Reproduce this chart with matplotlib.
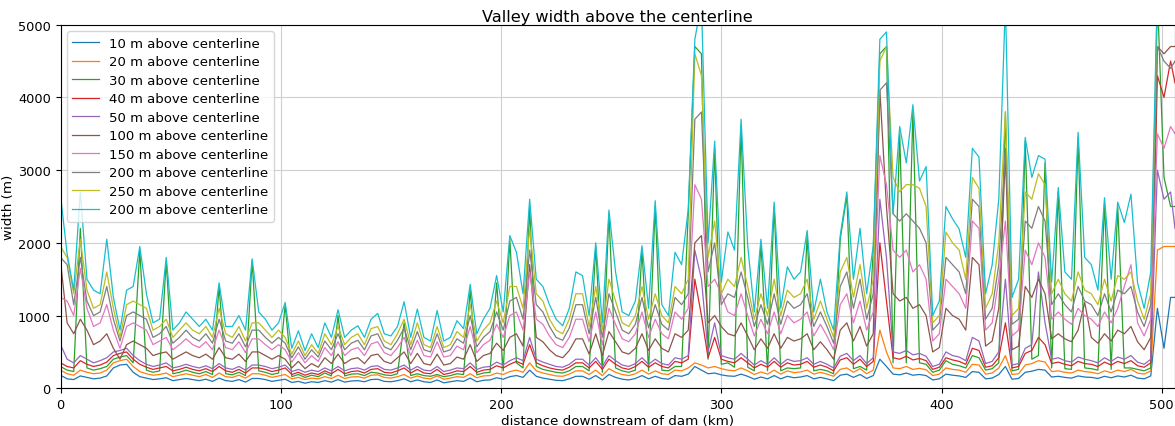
import numpy as np
import matplotlib
matplotlib.use("Agg")
import matplotlib.pyplot as plt

# Sampling stations along the river (km downstream of the dam)
distance_km = np.append(np.arange(0, 505, 3), 506)

series_labels = [
    "10 m above centerline", "20 m above centerline", "30 m above centerline",
    "40 m above centerline", "50 m above centerline", "100 m above centerline",
    "150 m above centerline", "200 m above centerline", "250 m above centerline",
    "200 m above centerline",
]

width_10m = [
    180, 130, 120, 170, 150, 130, 140, 170, 280, 320,
    330, 220, 160, 140, 120, 130, 145, 105, 120, 135,
    120, 105, 125, 95, 140, 105, 95, 120, 85, 135,
    135, 120, 95, 110, 125, 80, 95, 70, 90, 80,
    105, 85, 120, 85, 100, 105, 90, 120, 125, 95,
    90, 105, 130, 90, 115, 90, 80, 115, 75, 90,
    105, 95, 140, 90, 110, 115, 145, 125, 160, 175,
    150, 250, 165, 140, 125, 110, 105, 130, 165, 165,
    125, 175, 115, 190, 150, 125, 115, 135, 175, 130,
    165, 135, 125, 175, 165, 195, 300, 250, 200, 210,
    185, 170, 165, 195, 165, 125, 155, 130, 175, 130,
    165, 145, 155, 175, 130, 150, 130, 105, 180, 195,
    150, 190, 135, 175, 400, 300, 195, 185, 210, 180,
    190, 175, 115, 130, 195, 180, 170, 150, 230, 220,
    130, 140, 190, 300, 125, 135, 220, 235, 260, 250,
    155, 165, 150, 140, 170, 155, 150, 135, 165, 145,
    170, 155, 180, 140, 130, 170, 1100, 550, 1250, 1250,
]

width_20m = [
    250, 200, 180, 250, 220, 200, 210, 250, 350, 380,
    400, 300, 230, 200, 180, 190, 210, 160, 180, 200,
    180, 160, 190, 150, 210, 160, 150, 180, 140, 200,
    200, 180, 150, 170, 190, 130, 150, 120, 140, 130,
    160, 135, 180, 135, 155, 160, 140, 180, 185, 150,
    140, 160, 190, 140, 170, 140, 130, 170, 125, 140,
    160, 150, 200, 145, 170, 175, 210, 190, 230, 250,
    220, 350, 240, 210, 190, 170, 165, 195, 240, 240,
    190, 250, 175, 270, 220, 190, 175, 200, 250, 195,
    240, 200, 190, 250, 240, 280, 350, 320, 280, 300,
    270, 250, 240, 280, 240, 190, 225, 195, 250, 195,
    240, 215, 225, 250, 195, 220, 195, 165, 260, 280,
    220, 270, 200, 250, 800, 500, 280, 270, 300, 260,
    275, 255, 175, 195, 280, 260, 250, 220, 330, 320,
    195, 210, 280, 450, 190, 200, 320, 340, 380, 360,
    230, 240, 220, 210, 250, 230, 220, 200, 240, 215,
    250, 230, 260, 210, 195, 240, 1900, 1950, 1950, 1950,
]

width_30m = [
    300, 250, 230, 2200, 280, 250, 270, 300, 400, 430,
    450, 350, 1900, 250, 220, 240, 1750, 200, 220, 250,
    220, 200, 230, 190, 1400, 200, 185, 220, 175, 1750,
    240, 220, 190, 210, 1150, 160, 190, 150, 180, 160,
    210, 170, 1000, 170, 195, 200, 175, 220, 210, 185,
    175, 200, 900, 175, 200, 175, 165, 190, 160, 175,
    200, 190, 1350, 185, 210, 220, 1450, 240, 2050, 350,
    280, 2500, 300, 260, 240, 220, 210, 240, 300, 300,
    240, 1950, 220, 2400, 280, 240, 220, 250, 1900, 240,
    2500, 250, 240, 300, 300, 2400, 4700, 4600, 400, 3300,
    330, 350, 290, 3600, 290, 240, 2000, 240, 2500, 240,
    280, 270, 280, 2100, 240, 260, 240, 200, 2050, 2650,
    270, 300, 250, 1900, 4600, 4700, 350, 3500, 350, 3800,
    350, 330, 220, 250, 380, 330, 310, 280, 450, 420,
    250, 270, 350, 3800, 240, 260, 3400, 400, 450, 3100,
    280, 2700, 270, 260, 3450, 280, 270, 250, 2550, 260,
    2500, 280, 280, 260, 240, 280, 5400, 2900, 2500, 2500,
]

width_40m = [
    350, 300, 280, 380, 330, 300, 320, 360, 450, 480,
    500, 400, 330, 290, 260, 280, 300, 240, 260, 290,
    260, 240, 270, 230, 300, 240, 220, 260, 210, 280,
    280, 260, 230, 250, 280, 190, 220, 180, 210, 190,
    240, 200, 260, 200, 230, 240, 210, 260, 270, 220,
    210, 240, 280, 210, 260, 210, 200, 260, 190, 210,
    240, 230, 300, 220, 250, 260, 310, 280, 330, 370,
    330, 600, 350, 310, 280, 260, 250, 290, 350, 350,
    280, 370, 260, 400, 330, 280, 260, 300, 370, 290,
    350, 300, 280, 370, 350, 400, 1500, 1000, 420, 700,
    400, 370, 350, 420, 350, 280, 330, 290, 370, 290,
    350, 320, 330, 370, 290, 320, 290, 240, 390, 420,
    330, 400, 300, 370, 2000, 1200, 420, 400, 440, 390,
    410, 380, 260, 290, 420, 390, 370, 330, 550, 520,
    290, 310, 420, 900, 280, 300, 480, 520, 700, 600,
    340, 360, 330, 310, 370, 340, 330, 300, 360, 320,
    370, 340, 380, 310, 290, 350, 4300, 4000, 4500, 4200,
]

width_50m = [
    600, 400, 350, 450, 400, 350, 380, 420, 500, 520,
    550, 450, 380, 330, 300, 320, 350, 280, 300, 330,
    300, 280, 310, 270, 340, 280, 260, 300, 250, 320,
    320, 300, 270, 290, 320, 230, 260, 220, 250, 230,
    280, 240, 300, 240, 270, 280, 250, 300, 310, 260,
    250, 280, 320, 250, 300, 250, 240, 300, 230, 250,
    280, 270, 350, 260, 290, 300, 360, 320, 380, 420,
    380, 700, 400, 360, 330, 300, 290, 330, 400, 400,
    320, 420, 300, 450, 380, 320, 300, 340, 420, 330,
    400, 340, 320, 420, 400, 450, 1900, 1500, 500, 900,
    450, 420, 400, 480, 400, 320, 380, 330, 420, 330,
    400, 370, 380, 420, 330, 370, 330, 280, 440, 480,
    380, 450, 340, 420, 2600, 1800, 500, 480, 520, 460,
    480, 440, 300, 330, 500, 450, 430, 380, 700, 650,
    340, 370, 500, 1500, 320, 340, 550, 600, 1600, 900,
    400, 420, 380, 360, 430, 400, 380, 350, 420, 370,
    430, 400, 450, 360, 330, 400, 3000, 2600, 2700, 2200,
]

width_100m = [
    1750, 900, 750, 950, 800, 600, 650, 750, 550, 400,
    600, 650, 600, 550, 450, 480, 500, 400, 450, 500,
    450, 420, 470, 400, 560, 420, 400, 470, 370, 500,
    500, 450, 400, 450, 400, 280, 370, 270, 340, 290,
    420, 340, 470, 340, 400, 420, 340, 450, 470, 370,
    340, 420, 500, 340, 480, 340, 320, 470, 320, 340,
    430, 400, 600, 370, 450, 480, 620, 520, 700, 750,
    580, 1700, 700, 640, 530, 450, 420, 520, 680, 680,
    470, 750, 450, 780, 640, 500, 470, 550, 750, 520,
    680, 550, 500, 750, 700, 800, 2000, 2100, 900, 1000,
    850, 750, 720, 900, 720, 530, 680, 550, 750, 550,
    700, 650, 680, 750, 530, 640, 530, 400, 800, 900,
    650, 850, 580, 750, 4100, 2500, 1300, 1200, 1250, 1100,
    1150, 1000, 500, 560, 1100, 1000, 950, 800, 1800, 1700,
    580, 650, 1100, 3200, 530, 580, 1400, 1250, 1500, 1300,
    680, 750, 680, 640, 800, 1180, 700, 620, 750, 650,
    800, 750, 850, 640, 530, 700, 4700, 4600, 4700, 4700,
]

width_150m = [
    1250, 1200, 1000, 1650, 1100, 850, 900, 1150, 800, 550,
    850, 900, 850, 800, 600, 650, 700, 530, 600, 680,
    600, 560, 640, 530, 800, 560, 530, 640, 490, 680,
    680, 600, 530, 600, 530, 360, 490, 350, 450, 370,
    560, 450, 640, 450, 530, 560, 450, 610, 640, 490,
    450, 560, 700, 450, 660, 450, 430, 640, 430, 450,
    580, 530, 850, 490, 600, 660, 880, 700, 1000, 1050,
    800, 1600, 950, 880, 720, 600, 560, 700, 950, 950,
    640, 1050, 600, 1100, 880, 680, 640, 750, 1050, 700,
    950, 750, 680, 1050, 950, 1100, 2800, 2600, 1400, 1500,
    1300, 1050, 1000, 1300, 1000, 720, 950, 750, 1050, 750,
    1000, 900, 950, 1050, 720, 880, 720, 530, 1150, 1300,
    900, 1200, 800, 1050, 3200, 2800, 1900, 1800, 1900, 1600,
    1700, 1500, 650, 750, 1500, 1400, 1300, 1100, 2300, 2200,
    800, 900, 1500, 2300, 720, 800, 1900, 1700, 2000, 1800,
    950, 1050, 950, 880, 1100, 1000, 950, 850, 1050, 900,
    1100, 1400, 1700, 900, 720, 950, 3500, 3300, 3600, 3500,
]

width_200m = [
    1800, 1700, 1150, 1800, 1200, 1000, 1050, 1400, 950, 650,
    1000, 1050, 1000, 950, 700, 750, 850, 620, 700, 800,
    700, 650, 750, 620, 950, 650, 620, 750, 570, 800,
    800, 700, 620, 700, 620, 420, 570, 400, 530, 430,
    650, 530, 750, 530, 620, 660, 530, 720, 750, 570,
    530, 660, 830, 530, 780, 530, 500, 750, 500, 530,
    680, 620, 1000, 570, 700, 780, 1050, 800, 1200, 1250,
    950, 1900, 1150, 1050, 850, 700, 660, 830, 1150, 1150,
    750, 1250, 700, 1300, 1050, 800, 750, 880, 1250, 830,
    1150, 880, 800, 1250, 1150, 1300, 3700, 3800, 1600, 2000,
    1150, 1300, 1250, 1600, 1250, 850, 1150, 880, 1300, 880,
    1200, 1100, 1150, 1300, 850, 1050, 850, 620, 1400, 1600,
    1100, 1500, 950, 1300, 4100, 4200, 2400, 2300, 2400, 2300,
    2200, 2000, 800, 900, 1800, 1700, 1600, 1300, 2600, 2500,
    950, 1100, 1700, 3300, 880, 950, 2300, 2200, 2500, 2300,
    1150, 1300, 1150, 1050, 1400, 1200, 1150, 1000, 1300, 1050,
    1350, 1300, 1400, 1050, 850, 1150, 4700, 4500, 4400, 4500,
]

width_250m = [
    1950, 1800, 1300, 2050, 1350, 1100, 1150, 1600, 1100, 700,
    1150, 1200, 1150, 1100, 800, 850, 950, 700, 800, 900,
    800, 750, 850, 700, 1100, 750, 700, 850, 650, 900,
    900, 800, 700, 800, 700, 470, 650, 450, 600, 480,
    750, 600, 850, 600, 700, 750, 600, 820, 850, 650,
    600, 750, 950, 600, 900, 600, 560, 850, 560, 600,
    780, 700, 1150, 650, 800, 900, 1200, 900, 1400, 1400,
    1100, 2200, 1300, 1200, 950, 800, 750, 950, 1300, 1300,
    850, 1400, 800, 1500, 1200, 900, 850, 1000, 1400, 950,
    1300, 1000, 900, 1400, 1300, 1500, 4600, 4300, 1800, 2300,
    1300, 1500, 1400, 1800, 1400, 950, 1300, 1000, 1500, 1000,
    1350, 1250, 1300, 1500, 950, 1200, 950, 700, 1600, 1800,
    1250, 1700, 1100, 1500, 4500, 4700, 2900, 2700, 2800, 2800,
    2750, 2500, 900, 1000, 2150, 2000, 1900, 1500, 2900, 2750,
    1100, 1300, 2000, 3800, 1000, 1100, 2700, 2600, 2950, 2800,
    1300, 1500, 1300, 1200, 1600, 1350, 1300, 1150, 1500, 1200,
    1550, 1500, 1600, 1200, 950, 1300, 5400, 5400, 5400, 5400,
]

width_300m = [
    2650, 1850, 1350, 2700, 1500, 1350, 1300, 2050, 1250, 800,
    1350, 1400, 1950, 1300, 900, 950, 1800, 800, 900, 1050,
    950, 850, 950, 800, 1450, 850, 850, 1000, 800, 1780,
    1050, 950, 800, 900, 1180, 550, 790, 520, 750, 560,
    900, 700, 1080, 700, 800, 860, 700, 950, 1030, 750,
    720, 850, 1190, 700, 1090, 700, 650, 1070, 650, 700,
    930, 820, 1430, 750, 950, 1100, 1550, 1050, 2100, 1870,
    1300, 2600, 1500, 1400, 1150, 950, 860, 1100, 1600, 1550,
    1000, 2000, 900, 2450, 1600, 1050, 1000, 1200, 1960, 1100,
    2580, 1150, 1000, 1870, 1700, 2460, 4800, 5300, 2000, 3400,
    1460, 2150, 1900, 3700, 1960, 1050, 2050, 1100, 2560, 1100,
    1670, 1500, 1600, 2170, 1050, 1500, 1050, 800, 2100, 2700,
    1500, 2200, 1300, 1960, 4800, 4900, 2400, 3600, 3100, 3900,
    2850, 3050, 1000, 1200, 2500, 2330, 2190, 1800, 3300, 3180,
    1300, 1700, 2600, 5300, 1250, 1500, 3450, 2900, 3200, 3150,
    1460, 2760, 1600, 1500, 3520, 1800, 1700, 1350, 2620, 1500,
    2560, 2280, 2670, 1450, 1100, 1600, 5500, 5500, 5500, 5500,
]

all_widths = [width_10m, width_20m, width_30m, width_40m, width_50m,
              width_100m, width_150m, width_200m, width_250m, width_300m]

fig = plt.figure(figsize=(11.75, 4.27), dpi=100)
ax = fig.add_axes([0.0515, 0.0883, 0.9485, 0.8515])

for label, widths in zip(series_labels, all_widths):
    ax.plot(distance_km, widths, lw=0.9, label=label)

ax.set_xlim(0, 506)
ax.set_ylim(0, 5000)
ax.set_xticks([0, 100, 200, 300, 400, 500])
ax.set_yticks([0, 1000, 2000, 3000, 4000, 5000])
ax.tick_params(labelsize=9.3)
ax.grid(True, color="#cfcfcf", lw=0.8)
ax.set_axisbelow(True)

ax.set_title("Valley width above the centerline", fontsize=11.6, pad=3)
ax.set_xlabel("distance downstream of dam (km)", fontsize=9.7, labelpad=2)
ax.set_ylabel("width (m)", fontsize=9.7, labelpad=2)
ax.legend(loc="upper left", fontsize=9.5, labelspacing=0.42)

fig.savefig("out.png", dpi=100)
